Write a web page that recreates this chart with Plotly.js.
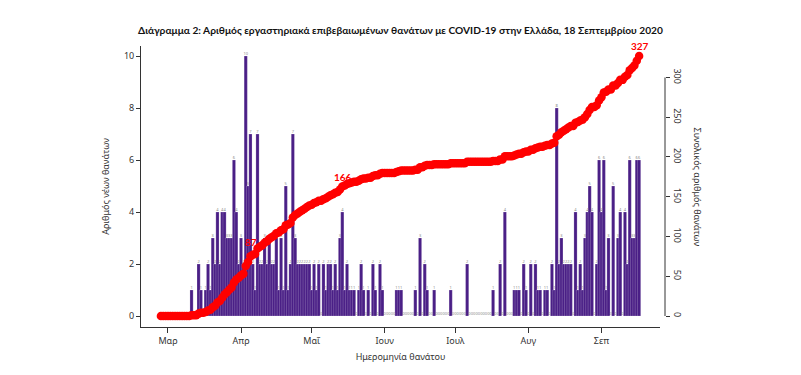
<!DOCTYPE html>
<html>
<head>
<meta charset="utf-8">
<script src="https://cdn.plot.ly/plotly-3.0.1.min.js"></script>
<style>body{margin:0;padding:0;background:#fff;} #chart{width:801px;height:375px;}</style>
</head>
<body>
<div id="chart"></div>
<script>
// Daily new deaths by date of death (Feb 27 – Sep 17, 2020)
const febDaily = [0,0,0];                                   // 27–29 Feb
const marDaily = [0,0,0,0,0,0,0,0,0,0,1,0,0,2,1,0,1,2,1,3,2,4,2,4,4,3,3,3,6,4,2];
const aprDaily = [3,2,10,5,7,2,1,7,2,2,3,2,3,2,2,3,1,3,1,5,1,2,7,3,2,2,2,2,2,2];
const mayDaily = [1,2,1,2,0,2,1,2,2,1,2,1,3,4,1,2,1,1,1,0,1,2,1,0,1,0,2,1,0,2,1];
const junDaily = [0,0,0,0,0,1,1,1,0,0,0,0,0,1,0,3,0,2,1,0,0,1,0,0,0,0,0,0,1,0];
const julDaily = [0,0,0,0,0,2,0,0,0,0,0,0,0,0,0,0,1,0,0,2,0,4,0,0,0,1,1,1,0,2,1];
const augDaily = [0,2,0,2,1,1,0,1,1,0,2,1,8,2,3,2,2,2,2,0,4,1,2,1,3,4,5,4,0,2,6];
const sepDaily = [4,6,1,3,0,5,0,3,4,0,4,2,6,3,3,6,6];      // 1–17 Sep

// Cumulative deaths
const febCum = [0,0,0];
const marCum = [0,0,0,0,0,0,0,0,0,0,1,1,1,3,4,4,5,7,8,11,13,17,19,23,27,30,33,36,42,46,48];
const aprCum = [51,53,63,68,75,77,78,85,87,89,92,94,97,99,101,104,105,108,109,114,115,117,124,127,129,131,133,135,137,139];
const mayCum = [140,142,143,145,145,147,148,150,152,153,155,156,159,163,164,166,167,168,169,169,170,172,173,173,174,174,176,177,177,179,180];
const junCum = [180,180,180,180,180,181,182,183,183,183,183,183,183,184,184,187,187,189,190,190,190,191,191,191,191,191,191,191,192,192];
const julCum = [192,192,192,192,192,194,194,194,194,194,194,194,194,194,194,194,195,195,195,197,197,201,201,201,201,202,203,204,204,206,207];
const augCum = [207,209,209,211,212,213,213,214,215,215,217,218,226,228,231,233,235,237,239,239,243,244,246,247,250,254,259,263,263,265,271];
const sepCum = [275,281,282,285,285,290,290,293,297,297,301,303,309,312,315,321,327];

const monthTickVals = ['2020-03-01','2020-04-01','2020-05-01','2020-06-01','2020-07-01','2020-08-01','2020-09-01'];
const monthTickText = ['Μαρ','Απρ','Μαΐ','Ιουν','Ιουλ','Αυγ','Σεπ'];
const cumTickVals = [0,50,100,150,200,250,300];
const leftTickVals = [0,2,4,6,8,10];
const labelledPoints = [
  {date:'2020-04-09', value:87,  xanchor:'right',  xshift:-1, yanchor:'middle', yshift:5},
  {date:'2020-05-16', value:166, xanchor:'center', xshift:-4, yanchor:'bottom', yshift:-1},
  {date:'2020-09-17', value:327, xanchor:'center', xshift:1,  yanchor:'bottom', yshift:2}
];

// Build date strings for each month block
const blocks = [
  {m:2, first:27, d:febDaily, c:febCum},
  {m:3, first:1, d:marDaily, c:marCum},
  {m:4, first:1, d:aprDaily, c:aprCum},
  {m:5, first:1, d:mayDaily, c:mayCum},
  {m:6, first:1, d:junDaily, c:junCum},
  {m:7, first:1, d:julDaily, c:julCum},
  {m:8, first:1, d:augDaily, c:augCum},
  {m:9, first:1, d:sepDaily, c:sepCum}
];
const dates = [], daily = [], cum = [];
const p2 = n => (n < 10 ? '0' : '') + n;
blocks.forEach(b => {
  b.d.forEach((v, i) => {
    dates.push('2020-' + p2(b.m) + '-' + p2(b.first + i));
    daily.push(v);
    cum.push(b.c[i]);
  });
});

const DAY = 86400000;
const purple = '#4a1f86';
const axisColor = '#333333';
const FONT = 'Noto Sans, DejaVu Sans, sans-serif';

const bars = {
  type:'bar', x:dates, y:daily, width:dates.map(() => 1.35*DAY),
  marker:{color:purple, line:{color:'rgba(255,255,255,0.5)', width:0.4}},
  hoverinfo:'x+y', xaxis:'x', yaxis:'y'
};
const valueLabels = {
  type:'scatter', mode:'text', x:dates, y:daily, text:daily.map(String),
  textposition:'top center', textfont:{size:4, color:'#8a8a8a', family:FONT},
  hoverinfo:'skip', xaxis:'x', yaxis:'y', cliponaxis:false
};
const cumLine = {
  type:'scatter', mode:'lines+markers', x:dates, y:cum,
  line:{color:'#ff0000', width:3.5},
  marker:{color:'#ff0000', size:8.5},
  xaxis:'x', yaxis:'y2'
};

const layout = {
  width:801, height:375,
  margin:{l:141, r:136, t:46, b:48, pad:0},
  paper_bgcolor:'#ffffff', plot_bgcolor:'#ffffff',
  showlegend:false,
  barmode:'overlay',
  font:{family:FONT, size:9, color:axisColor},
  title:{
    text:'<b>Διάγραμμα 2: Αριθμός εργαστηριακά επιβεβαιωμένων θανάτων με COVID-19 στην Ελλάδα, 18 Σεπτεμβρίου 2020</b>',
    x:0.5, xref:'container', xanchor:'center', y:1-30/375, yref:'container', yanchor:'middle',
    font:{family:'Lato, Noto Sans, sans-serif', size:10.2, color:'#111'}
  },
  xaxis:{
    type:'date', domain:[0, 0.9905],
    range:['2020-02-18 13:00','2020-09-25 21:00'],
    tickvals:monthTickVals, ticktext:monthTickText,
    ticks:'outside', ticklen:5, tickcolor:axisColor, tickwidth:1,
    showline:true, linecolor:axisColor, linewidth:1,
    showgrid:false, zeroline:false,
    tickfont:{size:9, color:axisColor, family:FONT},
    title:{text:'Ημερομηνία θανάτου', standoff:7, font:{size:9, color:axisColor, family:FONT}}
  },
  yaxis:{
    range:[-0.423, 10.385], tickvals:leftTickVals,
    ticks:'outside', ticklen:4, tickcolor:axisColor, tickwidth:1,
    showline:true, linecolor:axisColor, linewidth:1,
    showgrid:false, zeroline:false,
    tickfont:{size:9, color:axisColor, family:FONT},
    title:{text:'Αριθμός νέων θανάτων', standoff:12, font:{size:9, color:axisColor, family:FONT}}
  },
  yaxis2:{
    overlaying:'y', side:'right', anchor:'free', position:1,
    range:[-13.83, 339.6], tickvals:cumTickVals, tickangle:90,
    ticks:'outside', ticklen:4, tickcolor:axisColor, tickwidth:1,
    showline:false, showgrid:false, zeroline:false,
    tickfont:{size:9, color:axisColor, family:FONT}
  },
  shapes:[
    {type:'line', xref:'paper', yref:'y2', x0:1, x1:1, y0:cumTickVals[0], y1:cumTickVals[cumTickVals.length-1], line:{color:axisColor, width:1}}
  ],
  annotations:[
    {text:'Συνολικός αριθμός θανάτων', xref:'paper', yref:'paper', x:1, y:0.5, xanchor:'center', yanchor:'middle',
     xshift:32, textangle:90, showarrow:false, font:{size:9, color:axisColor, family:FONT}}
  ].concat(labelledPoints.map(p => ({
     text:'<b>' + p.value + '</b>', x:p.date, y:p.value, xref:'x', yref:'y2',
     showarrow:false, xanchor:p.xanchor, xshift:p.xshift, yanchor:p.yanchor, yshift:p.yshift,
     font:{size:10, color:'#ff0000', family:'Lato, Noto Sans, sans-serif'}
  })))
};

Plotly.newPlot('chart', [bars, valueLabels, cumLine], layout, {staticPlot:true, displayModeBar:false});
</script>
</body>
</html>
